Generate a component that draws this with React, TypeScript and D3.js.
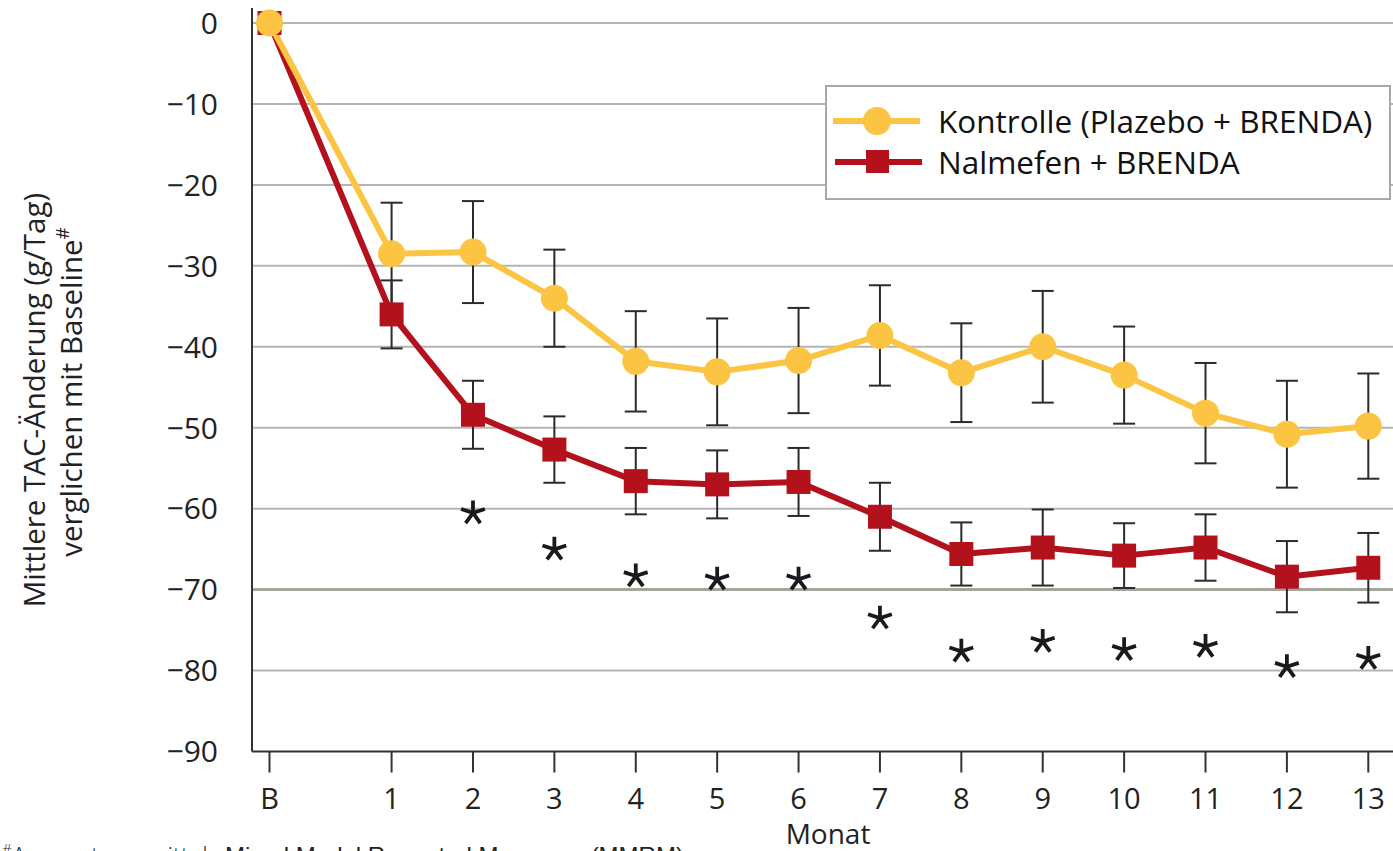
import React from 'react';
import * as d3 from 'd3';

// months on the x axis; B (baseline) sits half a step before month 1
const monthLabels = ['B', '1', '2', '3', '4', '5', '6', '7', '8', '9', '10', '11', '12', '13'];
const monthPos = [-0.5, 1, 2, 3, 4, 5, 6, 7, 8, 9, 10, 11, 12, 13];

// Kontrolle (Plazebo + BRENDA)
const controlMean = [0, -28.5, -28.3, -34.0, -41.8, -43.1, -41.7, -38.6, -43.2, -40.0, -43.5, -48.2, -50.8, -49.8];
const controlErr = [0, 6.3, 6.3, 6.0, 6.2, 6.6, 6.5, 6.2, 6.1, 6.9, 6.0, 6.2, 6.6, 6.5];

// Nalmefen + BRENDA
const nalmefenMean = [0, -36.0, -48.4, -52.7, -56.6, -57.0, -56.7, -61.0, -65.6, -64.8, -65.8, -64.8, -68.4, -67.3];
const nalmefenErr = [0, 4.2, 4.2, 4.1, 4.1, 4.2, 4.2, 4.2, 3.9, 4.7, 4.0, 4.1, 4.4, 4.3];

// significance markers (month index, value level)
const sigMonths = [2, 3, 4, 5, 6, 7, 8, 9, 10, 11, 12, 13];
const sigLevel = [-60.4, -64.9, -68.2, -68.6, -68.6, -73.4, -77.5, -76.3, -77.3, -76.9, -79.4, -78.4];

const yTicks = [0, -10, -20, -30, -40, -50, -60, -70, -80, -90];

const YELLOW = '#fbc443';
const RED = '#b3121d';
const FONT = '"Open Sans", sans-serif';

export default function App() {
  const width = 1393;
  const height = 851;

  const x = d3.scaleLinear().domain([-0.5, 13]).range([269.5, 1368.3]);
  const y = d3.scaleLinear().domain([0, -90]).range([23, 751.5]);
  const axisX = 252;
  const axisY = y(-90);

  const line = d3
    .line<number>()
    .x((_, i) => x(monthPos[i]))
    .y((d) => y(d));

  const minus = (v: number) => (v < 0 ? '\u2212' + Math.abs(v) : String(v));

  const errorBars = (means: number[], errs: number[], key: string) =>
    means.map((m, i) =>
      errs[i] > 0 ? (
        <g key={key + i} stroke="#2b2b2b" strokeWidth={2}>
          <line x1={x(monthPos[i])} x2={x(monthPos[i])} y1={y(m + errs[i])} y2={y(m - errs[i])} />
          <line x1={x(monthPos[i]) - 11} x2={x(monthPos[i]) + 11} y1={y(m + errs[i])} y2={y(m + errs[i])} />
          <line x1={x(monthPos[i]) - 11} x2={x(monthPos[i]) + 11} y1={y(m - errs[i])} y2={y(m - errs[i])} />
        </g>
      ) : null
    );

  // five-armed asterisk
  const star = (cx: number, cy: number, r: number) =>
    d3.range(5)
      .map((k) => {
        const a = -Math.PI / 2 + (k * 2 * Math.PI) / 5;
        return `M${cx},${cy}L${cx + r * Math.cos(a)},${cy + r * Math.sin(a)}`;
      })
      .join('');

  return (
    <svg width={width} height={height} style={{ position: 'absolute', left: 0, top: 0, background: '#fff' }}>
      {/* gridlines */}
      {yTicks.slice(0, -1).map((t) => (
        <line
          key={'g' + t}
          x1={axisX}
          x2={width}
          y1={y(t)}
          y2={y(t)}
          stroke={t === -70 ? '#a3a69d' : '#b4b4b4'}
          strokeWidth={t === -70 ? 3 : 2}
        />
      ))}

      {/* axes */}
      <line x1={axisX} x2={axisX} y1={8} y2={axisY} stroke="#333" strokeWidth={2} />
      <line x1={axisX} x2={width} y1={axisY} y2={axisY} stroke="#333" strokeWidth={2} />

      {yTicks.map((t) => (
        <text
          key={'yl' + t}
          x={218}
          y={y(t)}
          dy="0.36em"
          textAnchor="end"
          fontFamily={FONT}
          fontSize={30}
          fill="#222"
        >
          {minus(t)}
        </text>
      ))}

      {monthLabels.map((m, i) => (
        <g key={'xt' + m}>
          <line x1={x(monthPos[i])} x2={x(monthPos[i])} y1={axisY} y2={axisY + 21} stroke="#333" strokeWidth={2} />
          <text x={x(monthPos[i])} y={809} textAnchor="middle" fontFamily={FONT} fontSize={29} fill="#222">
            {m}
          </text>
        </g>
      ))}

      <text x={828} y={844} textAnchor="middle" fontFamily={FONT} fontSize={28} fill="#222">
        Monat
      </text>

      {/* y axis title */}
      <text transform="translate(45,400) rotate(-90)" textAnchor="middle" fontFamily={FONT} fontSize={29.5} fill="#222">
        Mittlere TAC-Änderung (g/Tag)
      </text>
      <text transform="translate(82,392) rotate(-90)" textAnchor="middle" fontFamily={FONT} fontSize={29.5} fill="#222">
        verglichen mit Baseline
        <tspan fontSize={19} dy={-13}>#</tspan>
      </text>

      {/* series lines */}
      <path d={line(nalmefenMean) || ''} fill="none" stroke={RED} strokeWidth={6} strokeLinejoin="round" />
      <path d={line(controlMean) || ''} fill="none" stroke={YELLOW} strokeWidth={6} strokeLinejoin="round" />

      {errorBars(controlMean, controlErr, 'ce')}
      {errorBars(nalmefenMean, nalmefenErr, 'ne')}

      {nalmefenMean.map((v, i) => (
        <rect key={'nm' + i} x={x(monthPos[i]) - 12} y={y(v) - 12} width={24} height={24} fill={RED} />
      ))}
      {controlMean.map((v, i) => (
        <circle key={'cm' + i} cx={x(monthPos[i])} cy={y(v)} r={13.5} fill={YELLOW} />
      ))}

      {/* significance asterisks */}
      {sigMonths.map((m, i) => (
        <path key={'s' + m} d={star(x(m), y(sigLevel[i]) + 1, 12.5)} stroke="#1a1a1a" strokeWidth={3.8} fill="none" />
      ))}

      {/* legend */}
      <rect x={826} y={86} width={564} height={113} fill="#fff" stroke="#a8a8a8" strokeWidth={2} />
      <line x1={833} x2={920} y1={121} y2={121} stroke={YELLOW} strokeWidth={6} />
      <circle cx={877} cy={121} r={14} fill={YELLOW} />
      <line x1={835} x2={922} y1={162} y2={162} stroke={RED} strokeWidth={6} />
      <rect x={866} y={150} width={23} height={23} fill={RED} />
      <text x={938} y={133} fontFamily={FONT} fontSize={31.5} fill="#111">
        Kontrolle (Plazebo + BRENDA)
      </text>
      <text x={938} y={174} fontFamily={FONT} fontSize={31.5} fill="#111">
        Nalmefen + BRENDA
      </text>

      {/* footnote, cut off by the frame as in the source */}
      <text x={2} y={864} fontFamily={FONT} fontWeight={300} fontSize={24} fill="#222">
        <tspan fontSize={15} dy={-9}>#</tspan>
        <tspan dy={9}>Auswertung mittels </tspan>
        <tspan fontFamily='"Liberation Sans", Arial, sans-serif' fontWeight={400}>Mixed Model Repeated Measures (MMRM)</tspan>
      </text>
    </svg>
  );
}
